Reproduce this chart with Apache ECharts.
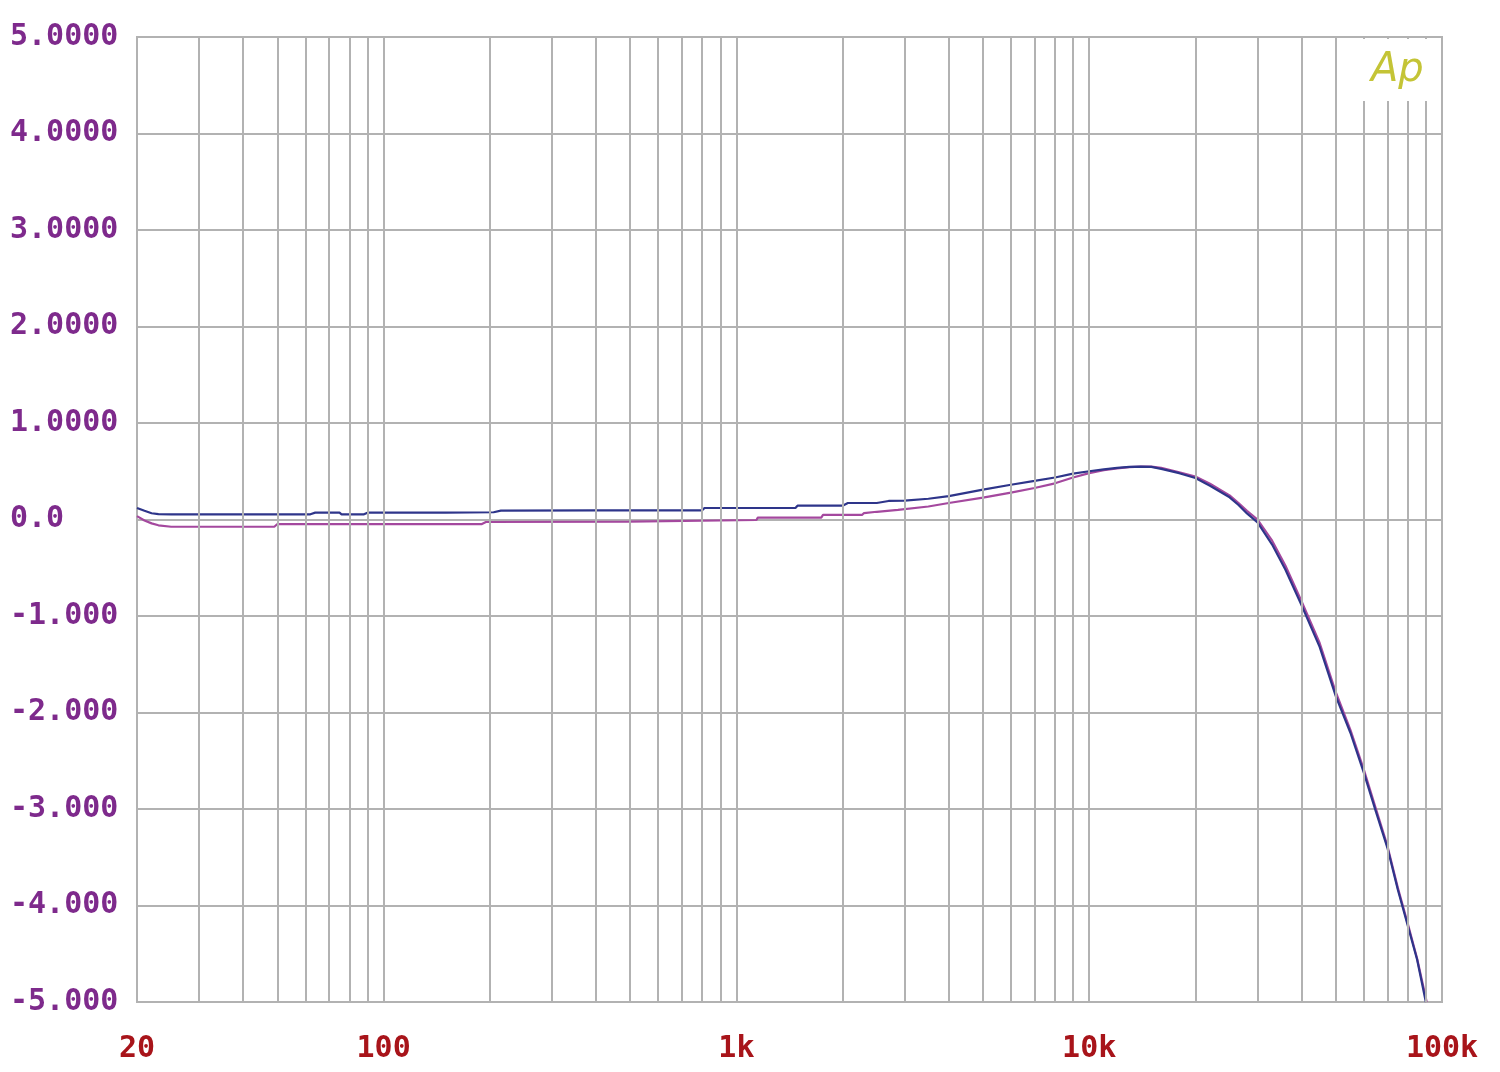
<!DOCTYPE html>
<html>
<head>
<meta charset="utf-8">
<script src="https://cdn.jsdelivr.net/npm/echarts@6/dist/echarts.min.js"></script>
<style>
html,body{margin:0;padding:0;background:#fff;}
#chart{width:1500px;height:1072px;}
</style>
</head>
<body>
<div id="chart"></div>
<script>
// Frequencies (Hz) and levels (dB)
const blueFreqs = [20, 21, 22, 23, 25, 40, 62, 64, 75, 76, 88, 90, 150, 205, 215, 400, 800, 812, 1000, 1470, 1490, 2000, 2070, 2500, 2700, 3000, 3500, 4000, 5000, 6000, 7000, 8000, 9000, 10000, 11000, 12000, 13000, 14000, 15000, 16000, 18000, 20000, 22000, 25000, 26500, 28000, 30000, 33000, 36000, 40000, 45000, 50000, 55000, 60000, 65000, 70000, 75000, 80000, 85000, 90000];
const blueDb = [0.12, 0.09, 0.065, 0.055, 0.054, 0.054, 0.054, 0.071, 0.071, 0.054, 0.054, 0.071, 0.071, 0.075, 0.092, 0.095, 0.095, 0.119, 0.119, 0.119, 0.143, 0.143, 0.171, 0.171, 0.192, 0.195, 0.215, 0.243, 0.31, 0.36, 0.40, 0.435, 0.475, 0.50, 0.52, 0.535, 0.545, 0.548, 0.545, 0.525, 0.48, 0.43, 0.35, 0.23, 0.15, 0.063, -0.03, -0.26, -0.52, -0.89, -1.32, -1.83, -2.21, -2.62, -3.03, -3.40, -3.84, -4.21, -4.56, -5.0];

const purpleFreqs = [20, 21, 22, 23, 25, 49, 50, 190, 195, 495, 500, 1140, 1150, 1740, 1760, 2270, 2300, 2500, 2870, 3500, 4000, 5000, 6000, 7000, 8000, 9000, 10000, 11000, 12000, 13000, 14000, 15000, 16000, 18000, 20000, 22000, 25000, 26500, 28000, 30000, 33000, 36000, 40000, 45000, 50000, 55000, 60000, 65000, 70000, 75000, 80000, 85000, 90500];
const purpleDb = [0.035, -0.01, -0.04, -0.06, -0.075, -0.075, -0.047, -0.047, -0.026, -0.023, -0.005, -0.005, 0.019, 0.019, 0.047, 0.047, 0.067, 0.08, 0.10, 0.135, 0.171, 0.227, 0.278, 0.326, 0.375, 0.435, 0.48, 0.51, 0.53, 0.543, 0.548, 0.548, 0.535, 0.49, 0.445, 0.37, 0.25, 0.17, 0.09, 0.0, -0.22, -0.48, -0.85, -1.28, -1.79, -2.18, -2.59, -3.0, -3.38, -3.82, -4.19, -4.55, -5.0];

// Axis ticks and labels
const xTickValues = [20, 100, 1000, 10000, 100000];
const xTickLabels = ['20', '100', '1k', '10k', '100k'];
const yTickValues = [-5, -4, -3, -2, -1, 0, 1, 2, 3, 4, 5];
const yTickLabels = ['-5.000', '-4.000', '-3.000', '-2.000', '-1.000', '0.0', '1.0000', '2.0000', '3.0000', '4.0000', '5.0000'];

// Vertical grid lines (Hz)
const gridFreqs = [30, 40, 50, 60, 70, 80, 90, 100, 200, 300, 400, 500, 600, 700, 800, 900, 1000, 2000, 3000, 4000, 5000, 6000, 7000, 8000, 9000, 10000, 20000, 30000, 40000, 50000, 60000, 70000, 80000, 90000];

const GRID_COLOR = '#b2b2b2';
const MONO = '"DejaVu Sans Mono", "Liberation Mono", monospace';

function pair(fs, vs) { return fs.map((f, i) => [f, vs[i]]); }

const chart = echarts.init(document.getElementById('chart'), null, {renderer: 'canvas'});
chart.setOption({
  animation: false,
  backgroundColor: '#ffffff',
  grid: {
    left: 137, right: 58, top: 37, bottom: 70,
    show: true, borderColor: GRID_COLOR, borderWidth: 2, backgroundColor: '#ffffff'
  },
  xAxis: {
    type: 'log', logBase: 10, min: 20, max: 100000,
    axisLine: {show: false}, axisTick: {show: false}, splitLine: {show: false},
    axisLabel: {
      show: true, margin: 32, color: '#a8141a',
      fontFamily: MONO, fontWeight: 'bold', fontSize: 30,
      showMinLabel: true, showMaxLabel: true,
      formatter: function (v) {
        for (let i = 0; i < xTickValues.length; i++) {
          if (Math.abs(Math.log10(v) - Math.log10(xTickValues[i])) < 0.01) return xTickLabels[i];
        }
        return '';
      }
    }
  },
  yAxis: {
    type: 'value', min: -5, max: 5, interval: 1,
    axisLine: {show: false}, axisTick: {show: false},
    splitLine: {show: true, lineStyle: {color: GRID_COLOR, width: 2}},
    axisLabel: {
      align: 'left', margin: 127, color: '#7e2a8c',
      fontFamily: MONO, fontWeight: 'bold', fontSize: 30,
      formatter: function (v) {
        const i = yTickValues.indexOf(Math.round(v));
        return i >= 0 ? yTickLabels[i] : '';
      }
    }
  },
  series: [
    {
      type: 'line', data: [], z: 1, silent: true,
      markLine: {
        silent: true, symbol: ['none', 'none'], label: {show: false},
        lineStyle: {color: GRID_COLOR, width: 2, type: 'solid'},
        emphasis: {disabled: true},
        data: gridFreqs.map(f => ({xAxis: f}))
      }
    },
    {
      name: 'purple', type: 'line', z: 3, showSymbol: false, smooth: false,
      lineStyle: {color: '#a4489e', width: 2.2}, itemStyle: {color: '#a4489e'},
      data: pair(purpleFreqs, purpleDb)
    },
    {
      name: 'blue', type: 'line', z: 4, showSymbol: false, smooth: false,
      lineStyle: {color: '#2e358a', width: 2.2}, itemStyle: {color: '#2e358a'},
      data: pair(blueFreqs, blueDb)
    }
  ],
  graphic: [
    {type: 'rect', z: 100, shape: {x: 1347, y: 39, width: 93, height: 62}, style: {fill: '#ffffff'}},
    {type: 'text', z: 101, x: 1371, y: 51, style: {text: 'Ap', fill: '#c4c436', font: 'italic 200 40px "DejaVu Sans"'}}
  ]
});
</script>
</body>
</html>
